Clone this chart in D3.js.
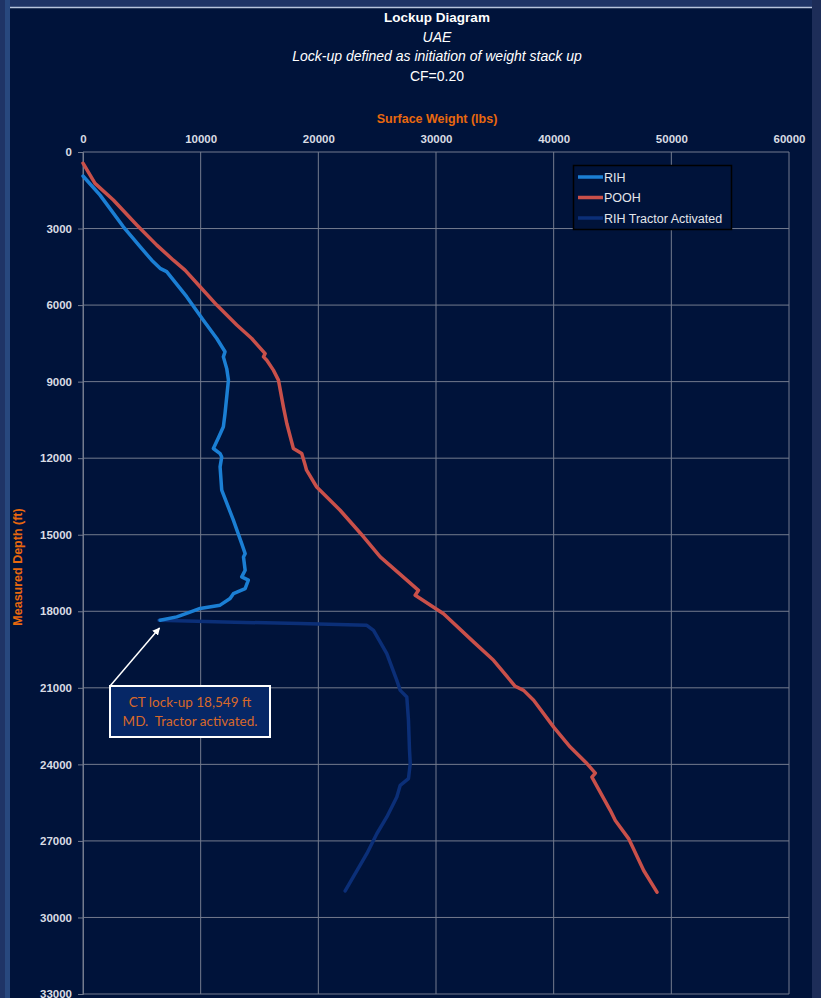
<!DOCTYPE html>
<html lang="en">
<head>
<meta charset="utf-8">
<title>Lockup Diagram</title>
<script src="https://cdn.jsdelivr.net/npm/d3@7"></script>
<style>
  body { margin: 0; background: #1f3466; }
  svg { display: block; font-family: "Liberation Sans", Arial, sans-serif; }
</style>
</head>
<body>
<script>
// series data: surface weight (lbs) vs measured depth (ft)
var rihWeight = [0, 1450, 3430, 4850, 5840, 6550, 7110, 8810, 10230, 11370, 12070, 11930, 12220, 12360, 12070,
                 11930, 11510, 11080, 11650, 11790, 11650, 11790, 12780, 13490, 13780, 13640, 13780, 13490, 14050,
                 13780, 12780, 12500, 11650, 9950, 9100, 7970, 6550];
var rihDepth = [940, 1690, 2930, 3710, 4240, 4560, 4690, 5670, 6590, 7310, 7830, 8030, 8500, 8940, 10250,
                10770, 11200, 11620, 11820, 11950, 12340, 13250, 14430, 15350, 15740, 15870, 16390, 16650, 16780,
                17110, 17310, 17500, 17760, 17890, 18030, 18220, 18350];

var poohWeight = [0, 1020, 2580, 4570, 6270, 7680, 8670, 9950, 11370, 13070, 14340, 15480, 15340, 15620, 16180,
                  16610, 17030, 17320, 17880, 18590, 18880, 19000, 19860, 21850, 23840, 25260, 27520, 28510, 28230,
                  28660, 30640, 33190, 34890, 36730, 37450, 38300, 40000, 41410, 42830, 43540, 43250, 44810, 45240,
                  46370, 47650, 48780];
var poohDepth = [440, 1230, 1880, 2860, 3650, 4240, 4630, 5280, 6000, 6780, 7310, 7900, 8030, 8160, 8550,
                 8940, 9990, 10640, 11620, 11820, 12270, 12470, 13130, 14040, 15080, 15870, 16780, 17180, 17370,
                 17500, 18100, 19200, 19920, 20940, 21100, 21490, 22540, 23320, 23970, 24340, 24500, 25800, 26200,
                 26910, 28160, 29010];

var tractorWeight = [6450, 12000, 18450, 24120, 24690, 25820, 26670, 26960, 27520, 27660, 27750, 27810, 27660,
                     26960, 26670, 25820, 24970, 24120, 22280];
var tractorDepth = [18350, 18420, 18480, 18550, 18750, 19660, 20710, 21100, 21360, 22270, 23450, 23970, 24560,
                    24820, 25280, 26060, 26720, 27500, 28960];

var seriesNames = ["RIH", "POOH", "RIH Tractor Activated"];
var seriesColors = ["#1b7fd4", "#c9504a", "#0b2f78"];
var xTicks = [0, 10000, 20000, 30000, 40000, 50000, 60000];
var yTicks = [0, 3000, 6000, 9000, 12000, 15000, 18000, 21000, 24000, 27000, 30000, 33000];
var titleLines = ["Lockup Diagram", "UAE", "Lock-up defined as initiation of weight stack up", "CF=0.20"];

var w = 821, h = 998;
var plotLeft = 83, plotRight = 789, plotTop = 152, plotBottom = 994;

var svg = d3.select("body").append("svg")
    .attr("width", w)
    .attr("height", h);

// background panels
svg.append("rect").attr("x", 0).attr("y", 0).attr("width", w).attr("height", h).attr("fill", "#1f3466");
svg.append("rect").attr("x", 5).attr("y", 0).attr("width", 5).attr("height", h).attr("fill", "#28487e");
svg.append("rect").attr("x", 812).attr("y", 0).attr("width", 9).attr("height", h).attr("fill", "#1d2d58");
svg.append("rect").attr("x", 10).attr("y", 7).attr("width", 802).attr("height", h - 7).attr("fill", "#00133a");
svg.append("line").attr("x1", 10).attr("x2", 812).attr("y1", 7.5).attr("y2", 7.5)
   .attr("stroke", "#b8c4dc").attr("stroke-width", 1.5);

var x = d3.scaleLinear().domain([0, 60000]).range([plotLeft, plotRight]);
var y = d3.scaleLinear().domain([0, 33000]).range([plotTop, plotBottom]);

// grid
svg.append("g").selectAll("line").data(xTicks).enter().append("line")
   .attr("x1", function(d) { return x(d); }).attr("x2", function(d) { return x(d); })
   .attr("y1", plotTop).attr("y2", plotBottom)
   .attr("stroke", "#737b8e").attr("stroke-width", 1);
svg.append("g").selectAll("line").data(yTicks).enter().append("line")
   .attr("x1", plotLeft).attr("x2", plotRight)
   .attr("y1", function(d) { return y(d); }).attr("y2", function(d) { return y(d); })
   .attr("stroke", "#737b8e").attr("stroke-width", 1);

// axes
var xAxis = d3.axisTop(x).tickValues(xTicks).tickFormat(d3.format("d")).tickSize(0).tickPadding(9);
var gx = svg.append("g").attr("transform", "translate(0," + plotTop + ")").call(xAxis);
gx.select(".domain").remove();

var yAxis = d3.axisLeft(y).tickValues(yTicks).tickFormat(d3.format("d")).tickSize(5).tickPadding(6);
var gy = svg.append("g").attr("transform", "translate(" + plotLeft + ",0)").call(yAxis);
gy.select(".domain").attr("stroke", "#737b8e");
gy.selectAll(".tick line").attr("stroke", "#737b8e");

svg.selectAll(".tick text")
   .attr("fill", "#d9dce4")
   .style("font-size", "11.5px")
   .style("font-weight", "bold")
   .style("font-family", "'Liberation Sans', Arial, sans-serif");

// lines
var series = [
  { w: rihWeight, d: rihDepth },
  { w: poohWeight, d: poohDepth },
  { w: tractorWeight, d: tractorDepth }
];
var line = d3.line()
    .x(function(p) { return x(p[0]); })
    .y(function(p) { return y(p[1]); });

[2, 0, 1].forEach(function(i) {
  var pts = series[i].w.map(function(v, j) { return [v, series[i].d[j]]; });
  svg.append("path")
     .attr("d", line(pts))
     .attr("fill", "none")
     .attr("stroke", seriesColors[i])
     .attr("stroke-width", 3.5)
     .attr("stroke-linejoin", "round")
     .attr("stroke-linecap", "round");
});

// titles
svg.selectAll(".title").data(titleLines).enter().append("text")
   .attr("x", 437)
   .attr("y", function(d, i) { return 22 + i * 19.5; })
   .attr("text-anchor", "middle")
   .attr("fill", "#ffffff")
   .style("font-size", function(d, i) { return i == 0 ? "13.5px" : "14px"; })
   .style("font-weight", function(d, i) { return i == 0 ? "bold" : "normal"; })
   .style("font-style", function(d, i) { return (i == 1 || i == 2) ? "italic" : "normal"; })
   .text(function(d) { return d; });

svg.append("text")
   .attr("x", 437).attr("y", 123)
   .attr("text-anchor", "middle")
   .attr("fill", "#e8680e")
   .style("font-size", "12.5px").style("font-weight", "bold")
   .text("Surface Weight (lbs)");

svg.append("text")
   .attr("transform", "translate(22," + ((plotTop + plotBottom) / 2 - 6) + ") rotate(-90)")
   .attr("text-anchor", "middle")
   .attr("fill", "#e8680e")
   .style("font-size", "12.5px").style("font-weight", "bold")
   .text("Measured Depth (ft)");

// legend
var lg = svg.append("g");
lg.append("rect").attr("x", 573.5).attr("y", 165.5).attr("width", 158).attr("height", 64)
  .attr("fill", "#00133a").attr("stroke", "#000000").attr("stroke-width", 1.5);
seriesNames.forEach(function(name, i) {
  var yy = 177 + i * 20.5;
  lg.append("line").attr("x1", 578).attr("x2", 603).attr("y1", yy).attr("y2", yy)
    .attr("stroke", seriesColors[i]).attr("stroke-width", 3.5);
  lg.append("text").attr("x", 604).attr("y", yy + 4.5)
    .attr("fill", "#e4e6ec").style("font-size", "12.5px")
    .text(name);
});

// annotation
var defs = svg.append("defs");
defs.append("marker").attr("id", "arrow").attr("viewBox", "0 0 10 10")
    .attr("refX", 9).attr("refY", 5).attr("markerWidth", 5).attr("markerHeight", 5)
    .attr("orient", "auto")
  .append("path").attr("d", "M0,0 L10,5 L0,10 z").attr("fill", "#ffffff");

svg.append("line")
   .attr("x1", x(2300)).attr("y1", 686)
   .attr("x2", x(6500)).attr("y2", 628)
   .attr("stroke", "#ffffff").attr("stroke-width", 1.5)
   .attr("marker-end", "url(#arrow)");

svg.append("rect").attr("x", 110).attr("y", 686).attr("width", 160).attr("height", 51)
   .attr("fill", "#062766").attr("stroke", "#ffffff").attr("stroke-width", 2);
["CT lock-up 18,549 ft", "MD.  Tractor activated."].forEach(function(t, i) {
  svg.append("text").attr("x", 190).attr("y", 707 + i * 19)
     .attr("text-anchor", "middle")
     .attr("fill", "#d8692a")
     .style("font-family", "Lato, 'Open Sans', sans-serif")
     .style("font-size", "13.5px")
     .style("white-space", "pre")
     .attr("xml:space", "preserve")
     .text(t);
});
</script>
</body>
</html>
